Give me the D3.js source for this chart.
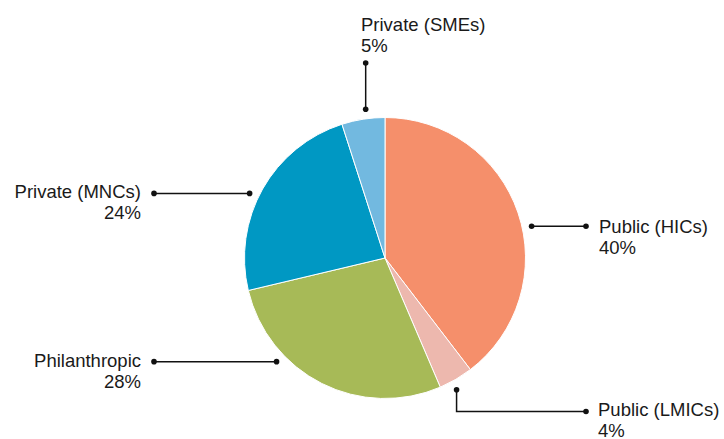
<!DOCTYPE html>
<html>
<head>
<meta charset="utf-8">
<script src="https://cdn.jsdelivr.net/npm/d3@7"></script>
<style>
  html, body { margin: 0; padding: 0; background: #fff; }
  svg { display: block; }
  text { font-family: "Liberation Sans", Arial, sans-serif; font-size: 18.5px; fill: #1a1a1a; }
</style>
</head>
<body>
<svg id="chart" width="724" height="439"></svg>
<script>
// Funding sources (share of total, %)
const categories = ["Public (HICs)", "Public (LMICs)", "Philanthropic", "Private (MNCs)", "Private (SMEs)"];
const values = [40, 4, 28, 24, 5];
const colors = ["#F58F6B", "#EDB8AE", "#A7BA57", "#0098C3", "#72B9E0"];

// Callout layout: angle (deg, clockwise from 12 o'clock) where the leader starts,
// the leader path after that, and where the label sits.
const callouts = [
  { angle: 77.8,  path: [[586, null]],            tx: 599, ty: 233, anchor: "start" },
  { angle: 151.5, path: [[null, 411.5], [586, 411.5]], tx: 598, ty: 416, anchor: "start" },
  { angle: 226.3, path: [[154, null]],            tx: 141, ty: 367, anchor: "end" },
  { angle: 295.5, path: [[154, null]],            tx: 141, ty: 198, anchor: "end" },
  { angle: 352.6, path: [[null, 63]],             tx: 361, ty: 31,  anchor: "start" }
];

const svg = d3.select("#chart");
const cx = 385, cy = 258, radius = 140.5, leaderR = 150, lineGap = 21;

const pie = d3.pie().sort(null).value(d => d.value);
const arcs = pie(categories.map((c, i) => ({ name: c, value: values[i], color: colors[i] })));
const arc = d3.arc().innerRadius(0).outerRadius(radius);

const g = svg.append("g").attr("transform", `translate(${cx},${cy})`);
g.selectAll("path.slice")
  .data(arcs)
  .join("path")
  .attr("class", "slice")
  .attr("d", arc)
  .attr("fill", d => d.data.color)
  .attr("stroke", "#fff")
  .attr("stroke-width", 1);

// Leader lines with dots at both ends
const lines = svg.append("g");
arcs.forEach((a, i) => {
  const c = callouts[i];
  const t = c.angle * Math.PI / 180;
  const start = [cx + leaderR * Math.sin(t), cy - leaderR * Math.cos(t)];
  const pts = [start];
  c.path.forEach(([x, y]) => {
    const prev = pts[pts.length - 1];
    pts.push([x == null ? prev[0] : x, y == null ? prev[1] : y]);
  });
  lines.append("path")
    .attr("d", d3.line()(pts))
    .attr("fill", "none")
    .attr("stroke", "#111")
    .attr("stroke-width", 1.5);
  [pts[0], pts[pts.length - 1]].forEach(p => {
    lines.append("circle").attr("cx", p[0]).attr("cy", p[1]).attr("r", 2.8).attr("fill", "#111");
  });

  const label = svg.append("text")
    .attr("x", c.tx).attr("y", c.ty)
    .attr("text-anchor", c.anchor);
  label.append("tspan").attr("x", c.tx).text(a.data.name);
  label.append("tspan").attr("x", c.tx).attr("dy", lineGap).text(a.data.value + "%");
});
</script>
</body>
</html>
